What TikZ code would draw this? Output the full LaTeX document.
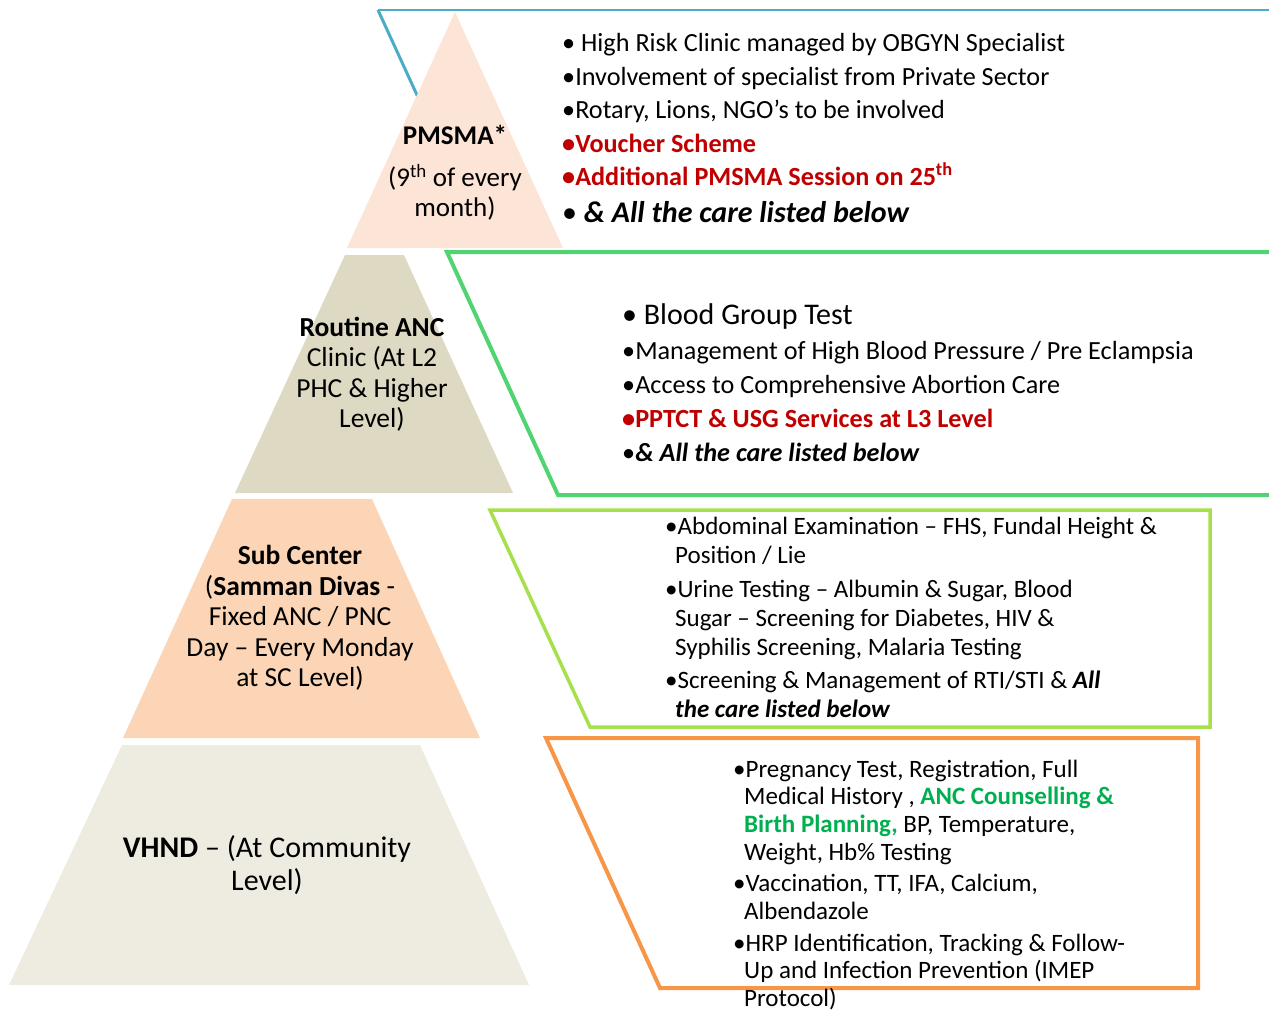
\documentclass[tikz,border=0pt]{standalone}
\usepackage{fontspec}
\setmainfont{Carlito}
\definecolor{bluefr}{HTML}{4BACC6}
\definecolor{greenfr}{HTML}{50D472}
\definecolor{limefr}{HTML}{A6E04A}
\definecolor{orangefr}{HTML}{F79646}
\definecolor{lvlA}{HTML}{FCE4D6}
\definecolor{lvlB}{HTML}{DDD9C3}
\definecolor{lvlC}{HTML}{FBD5B5}
\definecolor{lvlD}{HTML}{EEECE1}
\definecolor{redtxt}{HTML}{C00000}
\definecolor{grntxt}{HTML}{00B050}

\begin{document}
\begin{tikzpicture}[x=1pt,y=-1pt,
    frame/.style={line width=4pt,fill=white,line join=miter},
    lbl/.style={align=center,inner sep=0pt,font=\fontsize{27.5}{30.5}\selectfont},
    itemA/.style={anchor=base west,inner sep=0pt,font=\fontsize{26.2}{29}\selectfont},
    itemC/.style={anchor=base west,inner sep=0pt,font=\fontsize{25}{29}\selectfont},
    itemD/.style={anchor=base west,inner sep=0pt,font=\fontsize{25}{27}\selectfont}]
    \useasboundingbox (0,0) rectangle (1269,1010);

    % frames behind the pyramid
    \draw[bluefr,line width=3pt] (378,10) -- (450,167);
    \draw[bluefr,line width=1.5pt] (378,10) -- (1300,10);
    \draw[frame,draw=greenfr] (447,252) -- (1300,252) -- (1300,495) -- (558,495) -- cycle;
    \draw[frame,draw=limefr,line width=3.5pt] (490,510) -- (1210,510) -- (1210,727) -- (590,727) -- cycle;
    \draw[frame,draw=orangefr] (546,738) -- (1198,738) -- (1198,988) -- (660,988) -- cycle;

    % pyramid levels
    \fill[lvlA] (455,12) -- (563,248) -- (347,248) -- cycle;
    \fill[lvlB] (345,255) -- (404,255) -- (513,493) -- (235,493) -- cycle;
    \fill[lvlC] (232,499) -- (372,499) -- (480,738) -- (123,738) -- cycle;
    \fill[lvlD] (122,745) -- (420,745) -- (529,985) -- (9,985) -- cycle;

    % level labels
    \node[lbl,font=\fontsize{27}{30}\selectfont] (pmsma) at (455,173) {\textbf{PMSMA*}\\[12pt](9\textsuperscript{th} of every\\month)};
    \node[lbl] (anc) at (372,374) {\textbf{Routine ANC}\\Clinic (At L2\\PHC \& Higher\\Level)};
    \node[lbl] (subc) at (300,618) {\textbf{Sub Center}\\(\textbf{Samman Divas} -\\Fixed ANC / PNC\\Day – Every Monday\\at SC Level)};
    \node[lbl,font=\fontsize{30}{33}\selectfont] (vhnd) at (267,865) {\textbf{VHND} – (At Community\\Level)};

    % PMSMA care
    \node[itemA] (a1) at (562,51) {• High Risk Clinic managed by OBGYN Specialist};
    \node[itemA] (a2) at (562,85) {•Involvement of specialist from Private Sector};
    \node[itemA] (a3) at (562,118) {•Rotary, Lions, NGO’s to be involved};
    \node[itemA,text=redtxt] (a4) at (562,152) {\textbf{•Voucher Scheme}};
    \node[itemA,text=redtxt] (a5) at (562,185) {\textbf{•Additional PMSMA Session on 25\textsuperscript{th}}};
    \node[itemA,font=\fontsize{30}{32}\selectfont] (a6) at (562,222) {• \textbf{\textit{\& All the care listed below}}};

    % routine ANC care
    \node[itemA,font=\fontsize{30}{32}\selectfont] (b1) at (622,324) {• Blood Group Test};
    \node[itemA] (b2) at (622,359) {•Management of High Blood Pressure / Pre Eclampsia};
    \node[itemA] (b3) at (622,393) {•Access to Comprehensive Abortion Care};
    \node[itemA,text=redtxt] (b4) at (622,427) {\textbf{•PPTCT \& USG Services at L3 Level}};
    \node[itemA] (b5) at (622,461) {•\textbf{\textit{\& All the care listed below}}};

    % sub center care
    \node[itemC] (c1) at (665,534) {•Abdominal Examination – FHS, Fundal Height \&};
    \node[itemC] (c2) at (675,563) {Position / Lie};
    \node[itemC] (c3) at (665,597) {•Urine Testing – Albumin \& Sugar, Blood};
    \node[itemC] (c4) at (675,626) {Sugar – Screening for Diabetes, HIV \&};
    \node[itemC] (c5) at (675,655) {Syphilis Screening, Malaria Testing};
    \node[itemC] (c6) at (665,688) {•Screening \& Management of RTI/STI \& \textbf{\textit{All}}};
    \node[itemC] (c7) at (675,717) {\textbf{\textit{the care listed below}}};

    % VHND care
    \node[itemD] (d1) at (733,777) {•Pregnancy Test, Registration, Full};
    \node[itemD] (d2) at (744,804) {Medical History , \textcolor{grntxt}{\textbf{ANC Counselling \&}}};
    \node[itemD] (d3) at (744,832) {\textcolor{grntxt}{\textbf{Birth Planning,}} BP, Temperature,};
    \node[itemD] (d4) at (744,860) {Weight, Hb\% Testing};
    \node[itemD] (d5) at (733,891) {•Vaccination, TT, IFA, Calcium,};
    \node[itemD] (d6) at (744,919) {Albendazole};
    \node[itemD] (d7) at (733,951) {•HRP Identification, Tracking \& Follow-};
    \node[itemD] (d8) at (744,978) {Up and Infection Prevention (IMEP};
    \node[itemD] (d9) at (744,1006) {Protocol)};
\end{tikzpicture}
\end{document}
